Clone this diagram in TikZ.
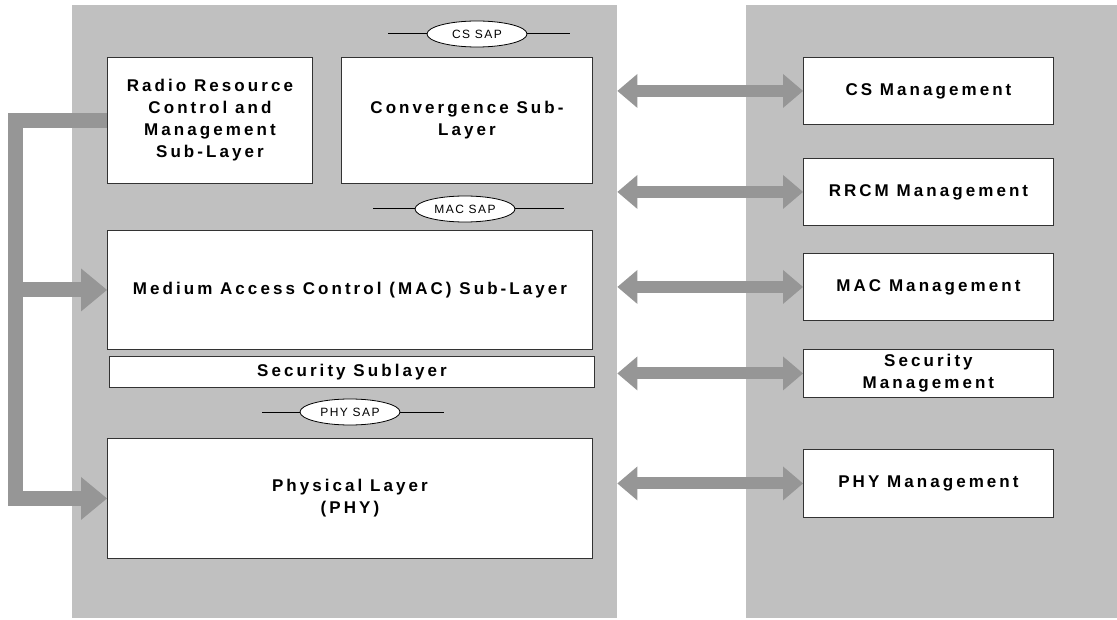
\documentclass[tikz,border=0pt]{standalone}
\usepackage{fontspec}
\setmainfont{Liberation Sans}
\newfontfamily\spacedfont[LetterSpace=18]{Liberation Sans Bold}
\newfontfamily\sapfont[LetterSpace=12]{Liberation Sans}
\usetikzlibrary{arrows.meta,shapes.geometric}
\definecolor{panel}{HTML}{C0C0C0}
\definecolor{pipe}{HTML}{969696}
\definecolor{edge}{HTML}{333333}

\tikzset{
  layer/.style={draw=edge, line width=0.9pt, fill=white, inner sep=0pt,
    align=center, anchor=north west,
    font=\spacedfont\fontsize{17}{22}\selectfont},
  sap/.style={ellipse, draw=black, fill=white, line width=0.8pt,
    minimum width=100pt, minimum height=26pt, inner sep=0pt,
    font=\sapfont\fontsize{12}{12}\selectfont},
  sapline/.style={line width=1pt},
  pipe/.style={draw=pipe, line width=12pt,
    {Triangle[length=20pt,width=34pt,line width=0pt]}-{Triangle[length=20pt,width=34pt,line width=0pt]}},
  feed/.style={draw=pipe, line width=15pt, line join=miter,
    -{Triangle[length=26pt,width=43pt,line width=0pt]}},
}

\begin{document}
\begin{tikzpicture}[x=1pt,y=-1pt]
  \useasboundingbox (0,0) rectangle (1117,620);
  % the two grey panels
  \node[fill=panel, inner sep=0pt, anchor=north west, minimum width=545pt, minimum height=613pt] (lp) at (72,5) {};
  \node[fill=panel, inner sep=0pt, anchor=north west, minimum width=371pt, minimum height=613pt] (rp) at (746,5) {};

  % protocol layers
  \node[layer, minimum width=205pt, minimum height=126pt] (rrcm) at (107,57) {Radio Resource\\Control and\\Management\\Sub-Layer};
  \node[layer, minimum width=251pt, minimum height=126pt] (conv) at (341,57) {Convergence Sub-\\Layer};
  \node[layer, minimum width=485pt, minimum height=119pt] (mac) at (107,230) {Medium Access Control (MAC) Sub-Layer};
  \node[layer, minimum width=485pt, minimum height=31pt] (sec) at (109,356) {Security Sublayer};
  \node[layer, minimum width=485pt, minimum height=120pt] (phy) at (107,438) {Physical Layer\\(PHY)};

  % service access points
  \coordinate (cs-l) at (388,34);  \coordinate (cs-r) at (570,34);
  \coordinate (mac-l) at (373,209); \coordinate (mac-r) at (564,209);
  \coordinate (phy-l) at (262,412); \coordinate (phy-r) at (444,412);
  \draw[sapline] (cs-l) -- (cs-r);
  \draw[sapline] (mac-l) -- (mac-r);
  \draw[sapline] (phy-l) -- (phy-r);
  \node[sap] (cssap) at (477,34) {CS SAP};
  \node[sap] (macsap) at (465,209) {MAC SAP};
  \node[sap] (physap) at (350,412) {PHY SAP};

  % management entities
  \node[layer, minimum width=250pt, minimum height=67pt] (csm) at (803,57) {CS Management};
  \node[layer, minimum width=250pt, minimum height=67pt] (rrcmm) at (803,158) {RRCM Management};
  \node[layer, minimum width=250pt, minimum height=67pt] (macm) at (803,253) {MAC Management};
  \node[layer, minimum width=250pt, minimum height=48pt] (secm) at (803,349) {Security\\Management};
  \node[layer, minimum width=250pt, minimum height=68pt] (phym) at (803,449) {PHY Management};

  % management interfaces
  \draw[pipe] (lp.east |- csm.west) -- (csm.west);
  \draw[pipe] (lp.east |- rrcmm.west) -- (rrcmm.west);
  \draw[pipe] (lp.east |- macm.west) -- (macm.west);
  \draw[pipe] (lp.east |- secm.west) -- (secm.west);
  \draw[pipe] (lp.east |- phym.west) -- (phym.west);

  % RRCM control path
  \coordinate (bus) at (15.5,300);
  \draw[feed] (rrcm.west) -| (bus |- phy.west) -- (phy.west);
  \draw[feed] (bus |- mac.west) -- (mac.west);
\end{tikzpicture}
\end{document}
